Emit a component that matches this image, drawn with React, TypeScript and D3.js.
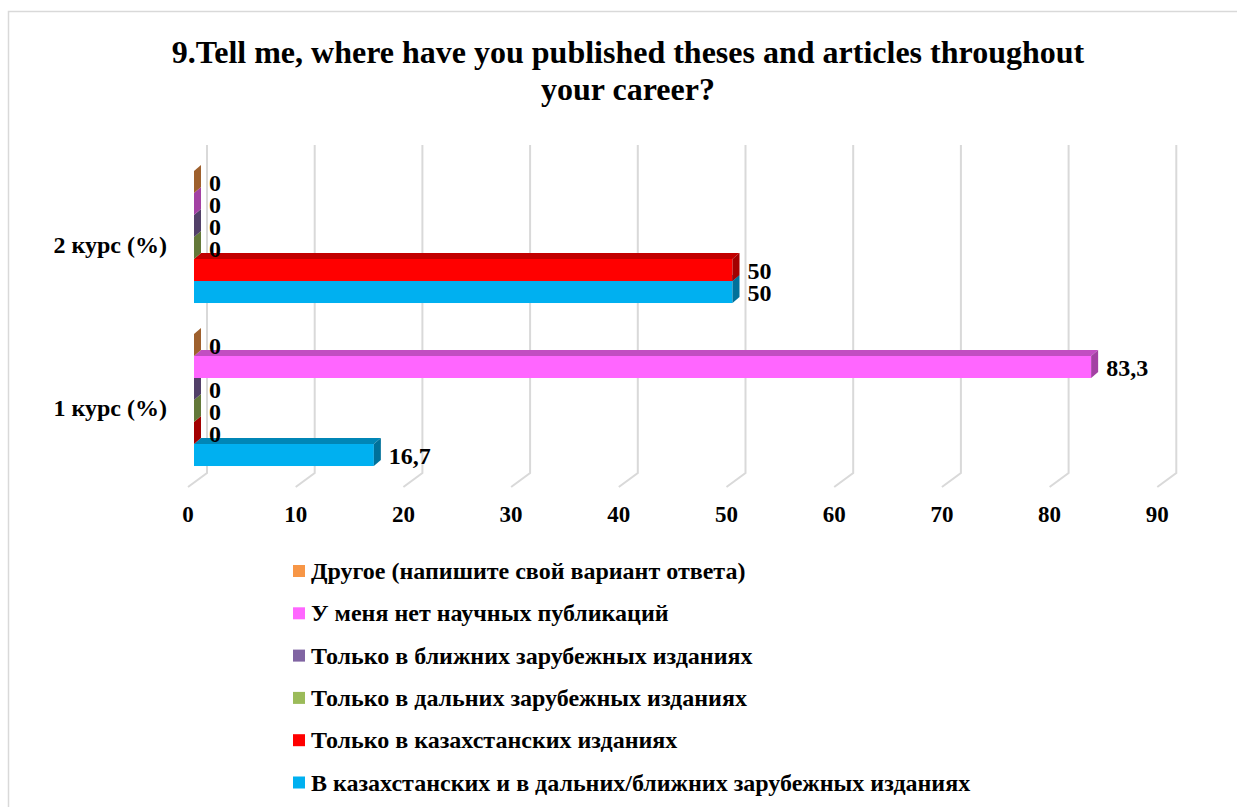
import * as d3 from 'd3'

const categories = ['2 курс (%)', '1 курс (%)']

const seriesNames = [
  'Другое (напишите свой вариант ответа)',
  'У меня нет научных публикаций',
  'Только в ближних зарубежных изданиях',
  'Только в дальних зарубежных изданиях',
  'Только в казахстанских изданиях',
  'В казахстанских и в дальних/ближних зарубежных изданиях',
]

const seriesColors = ['#F79646', '#FF66FF', '#8064A2', '#9BBB59', '#FF0000', '#00B0F0']

// values per series: [2 курс, 1 курс]
const otherValues = [0, 0]
const noPubValues = [0, 83.3]
const nearAbroadValues = [0, 0]
const farAbroadValues = [0, 0]
const kzOnlyValues = [50, 0]
const kzAndAbroadValues = [50, 16.7]

const seriesValues = [otherValues, noPubValues, nearAbroadValues, farAbroadValues, kzOnlyValues, kzAndAbroadValues]

const xTicks = [0, 10, 20, 30, 40, 50, 60, 70, 80, 90]

const titleLines = ['9.Tell me, where have you published theses and articles throughout', 'your career?']

const FONT = '"Liberation Serif", "Times New Roman", serif'

function shade(c: string, k: number) {
  const rgb = d3.rgb(c)
  return d3.rgb(rgb.r * k, rgb.g * k, rgb.b * k).formatHex()
}

export default function App() {
  const width = 1237
  const height = 807

  // 3D offsets
  const dx = 7
  const dy = 6
  const backDx = 13
  const floorDx = -19
  const floorDy = 14
  const wallTop = 145
  const wallBottom = 473

  const x = d3.scaleLinear().domain([0, 90]).range([194, 194 + 90 * 10.77])

  const y = d3
    .scaleBand<string>()
    .domain(categories)
    .range([155.5, 481.5])
    .paddingInner(0.19)
    .paddingOuter(0.095)

  const ySeries = d3
    .scaleBand<number>()
    .domain(d3.range(seriesNames.length))
    .range([0, y.bandwidth()])

  const h = ySeries.bandwidth()

  const fmt = (v: number) => String(v).replace('.', ',')

  // draw bottom series first so upper bars cover lower bars' top faces
  const order = d3.range(seriesNames.length).reverse()

  return (
    <svg
      width={width}
      height={height}
      style={{ position: 'absolute', left: 0, top: 0, display: 'block', background: '#fff' }}
      fontFamily={FONT}
    >
      <rect x={8.5} y={11.5} width={1400} height={1000} fill="#fff" stroke="#d9d9d9" strokeWidth={1.5} />

      {/* title */}
      <text textAnchor="middle" fontWeight="bold" fontSize={32} fill="#000">
        {titleLines.map((line, i) => (
          <tspan key={i} x={628} y={63 + i * 37}>
            {line}
          </tspan>
        ))}
      </text>

      {/* back wall gridlines + floor lines */}
      {xTicks.map(t => {
        const xb = x(t) + backDx
        return (
          <g key={t}>
            <polyline
              points={`${xb},${wallTop} ${xb},${wallBottom} ${xb + floorDx},${wallBottom + floorDy}`}
              fill="none"
              stroke="#d9d9d9"
              strokeWidth={2}
            />
            <text
              x={x(t) - 6}
              y={514}
              textAnchor="middle"
              dominantBaseline="central"
              fontWeight="bold"
              fontSize={23}
            >
              {t}
            </text>
          </g>
        )
      })}

      {/* category labels */}
      {categories.map(c => (
        <text
          key={c}
          x={167}
          y={(y(c) ?? 0) + y.bandwidth() / 2 + 8}
          textAnchor="end"
          dominantBaseline="central"
          fontWeight="bold"
          fontSize={24}
        >
          {c}
        </text>
      ))}

      {/* bars */}
      {categories.map((c, ci) => (
        <g key={c}>
          {order.map(si => {
            const v = seriesValues[si][ci]
            const s = (y(c) ?? 0) + (ySeries(si) ?? 0)
            const x0 = x(0)
            const x1 = x(v)
            const col = seriesColors[si]
            return (
              <g key={si}>
                {v > 0 && (
                  <>
                    <rect x={x0} y={s} width={x1 - x0} height={h} fill={col} />
                    <polygon
                      points={`${x0},${s} ${x1},${s} ${x1 + dx},${s - dy} ${x0 + dx},${s - dy}`}
                      fill={shade(col, 0.76)}
                    />
                  </>
                )}
                <polygon
                  points={`${x1},${s} ${x1 + dx},${s - dy} ${x1 + dx},${s + h - dy} ${x1},${s + h}`}
                  fill={shade(col, 0.64)}
                />
              </g>
            )
          })}
          {order.map(si => {
            const v = seriesValues[si][ci]
            const s = (y(c) ?? 0) + (ySeries(si) ?? 0)
            return (
              <text
                key={'l' + si}
                x={x(v) + dx + 8}
                y={s + h / 2 + 1}
                dominantBaseline="central"
                fontWeight="bold"
                fontSize={24}
              >
                {fmt(v)}
              </text>
            )
          })}
        </g>
      ))}

      {/* legend */}
      {seriesNames.map((name, i) => {
        const cy = 571 + i * 42.3
        return (
          <g key={name}>
            <rect x={293} y={cy - 6} width={12} height={12} fill={seriesColors[i]} />
            <text x={311} y={cy} dominantBaseline="central" fontWeight="bold" fontSize={24}>
              {name}
            </text>
          </g>
        )
      })}
    </svg>
  )
}
